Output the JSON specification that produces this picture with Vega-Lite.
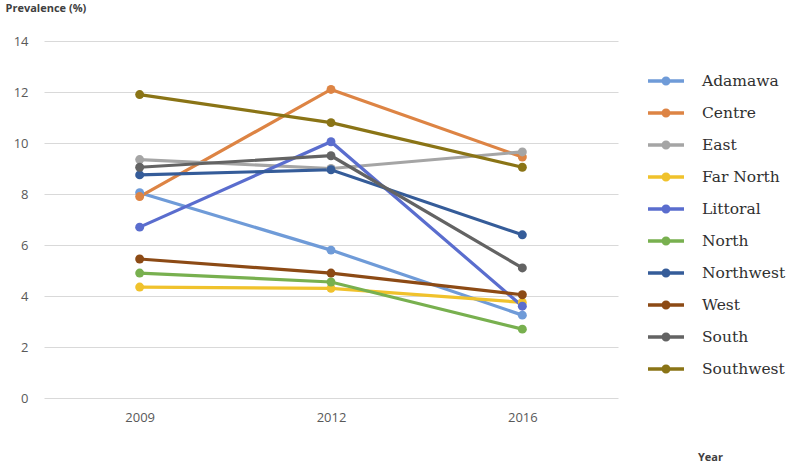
{
  "$schema": "https://vega.github.io/schema/vega-lite/v6.json",
  "width": 574,
  "height": 357,
  "autosize": "none",
  "padding": {"left": 44, "top": 41, "right": 169, "bottom": 65},
  "background": "white",
  "config": {
    "view": {"stroke": null},
    "font": "Lato"
  },
  "data": {
    "values": [
      {"Region": "Adamawa", "Year": "2009", "Prevalence": 8.05},
      {"Region": "Adamawa", "Year": "2012", "Prevalence": 5.8},
      {"Region": "Adamawa", "Year": "2016", "Prevalence": 3.25},
      {"Region": "Centre", "Year": "2009", "Prevalence": 7.9},
      {"Region": "Centre", "Year": "2012", "Prevalence": 12.1},
      {"Region": "Centre", "Year": "2016", "Prevalence": 9.45},
      {"Region": "East", "Year": "2009", "Prevalence": 9.35},
      {"Region": "East", "Year": "2012", "Prevalence": 9.0},
      {"Region": "East", "Year": "2016", "Prevalence": 9.65},
      {"Region": "Far North", "Year": "2009", "Prevalence": 4.35},
      {"Region": "Far North", "Year": "2012", "Prevalence": 4.3},
      {"Region": "Far North", "Year": "2016", "Prevalence": 3.75},
      {"Region": "Littoral", "Year": "2009", "Prevalence": 6.7},
      {"Region": "Littoral", "Year": "2012", "Prevalence": 10.05},
      {"Region": "Littoral", "Year": "2016", "Prevalence": 3.6},
      {"Region": "North", "Year": "2009", "Prevalence": 4.9},
      {"Region": "North", "Year": "2012", "Prevalence": 4.55},
      {"Region": "North", "Year": "2016", "Prevalence": 2.7},
      {"Region": "Northwest", "Year": "2009", "Prevalence": 8.75},
      {"Region": "Northwest", "Year": "2012", "Prevalence": 8.95},
      {"Region": "Northwest", "Year": "2016", "Prevalence": 6.4},
      {"Region": "West", "Year": "2009", "Prevalence": 5.45},
      {"Region": "West", "Year": "2012", "Prevalence": 4.9},
      {"Region": "West", "Year": "2016", "Prevalence": 4.05},
      {"Region": "South", "Year": "2009", "Prevalence": 9.05},
      {"Region": "South", "Year": "2012", "Prevalence": 9.5},
      {"Region": "South", "Year": "2016", "Prevalence": 5.1},
      {"Region": "Southwest", "Year": "2009", "Prevalence": 11.9},
      {"Region": "Southwest", "Year": "2012", "Prevalence": 10.8},
      {"Region": "Southwest", "Year": "2016", "Prevalence": 9.05}
    ]
  },
  "encoding": {
    "x": {
      "field": "Year",
      "type": "ordinal",
      "scale": {"type": "point", "padding": 0.5, "domain": ["2009", "2012", "2016"]},
      "axis": {
        "title": "Year",
        "titleFont": "Open Sans",
        "titleFontSize": 11,
        "titleFontWeight": "bold",
        "titleColor": "#404040",
        "titleX": 666,
        "titleY": 59,
        "titleAlign": "center",
        "titleBaseline": "middle",
        "labelAngle": 0,
        "labelFont": "Open Sans",
        "labelFontSize": 13,
        "labelColor": "#595959",
        "labelPadding": 13,
        "domain": false,
        "ticks": false,
        "grid": false
      }
    },
    "y": {
      "field": "Prevalence",
      "type": "quantitative",
      "scale": {"domain": [0, 14], "nice": false},
      "axis": {
        "title": "Prevalence (%)",
        "titleFont": "Open Sans",
        "titleFontSize": 11,
        "titleFontWeight": "bold",
        "titleColor": "#404040",
        "titleAngle": 0,
        "titleX": -39,
        "titleY": -39,
        "titleAlign": "left",
        "titleBaseline": "top",
        "values": [0, 2, 4, 6, 8, 10, 12, 14],
        "labelFont": "Open Sans",
        "labelFontSize": 13,
        "labelColor": "#595959",
        "labelPadding": 16,
        "domain": false,
        "ticks": false,
        "grid": true,
        "gridColor": "#d9d9d9",
        "gridWidth": 1.2
      }
    },
    "color": {
      "field": "Region",
      "type": "nominal",
      "scale": {
        "domain": ["Adamawa", "Centre", "East", "Far North", "Littoral", "North", "Northwest", "West", "South", "Southwest"],
        "range": ["#6F9BD8", "#DD8444", "#A5A5A5", "#F0C22C", "#5A6DCE", "#78B04F", "#355C99", "#8C4A15", "#636363", "#8A7416"]
      },
      "legend": {
        "title": null,
        "orient": "none",
        "legendX": 604,
        "legendY": 22,
        "symbolType": "M-1,-0.1L1,-0.1L1,0.1L-1,0.1Z M0.25,0A0.25,0.25 0 1,1 -0.25,0A0.25,0.25 0 1,1 0.25,0Z",
        "symbolSize": 1296,
        "symbolStrokeWidth": 0,
        "symbolOpacity": 1,
        "labelFont": "DejaVu Serif",
        "labelFontSize": 15.5,
        "labelColor": "#303030",
        "labelOffset": 18,
        "rowPadding": 5,
        "labelLimit": 200
      }
    }
  },
  "layer": [
    {
      "mark": {"type": "line", "strokeWidth": 3.2}
    },
    {
      "mark": {"type": "point", "filled": true, "opacity": 1, "size": 80}
    }
  ]
}
